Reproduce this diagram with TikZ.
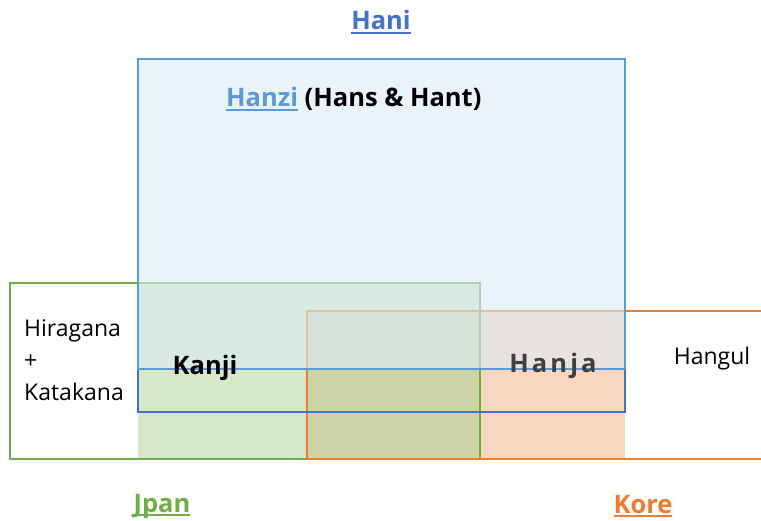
\documentclass[tikz,border=0pt]{standalone}
\usepackage{fontspec}
\setmainfont{Open Sans}
\definecolor{hblue}{HTML}{4472C4}
\definecolor{hlblue}{HTML}{5B9BD5}
\definecolor{hgreen}{HTML}{70AD47}
\definecolor{horange}{HTML}{ED7D31}
\definecolor{hanfill}{HTML}{DDEBF7}
\definecolor{grfill}{HTML}{D5E8C8}
\definecolor{orfill}{HTML}{F8D7C0}
\definecolor{olfill}{HTML}{CFD3A8}
\definecolor{hanjagray}{HTML}{404040}
\newcommand\myul[2][1.8pt]{\setbox0\hbox{#2}\rlap{\rule[-4pt]{\wd0}{#1}}\box0}
\tikzset{
  title/.style={inner sep=0pt, font=\bfseries\fontsize{25.5}{30}\selectfont},
  plain/.style={inner sep=0pt, font=\fontsize{23}{27}\selectfont},
}
\begin{document}
\begin{tikzpicture}[x=1pt,y=-1pt]
\useasboundingbox (0,0) rectangle (761,521);
% fills
\fill[grfill] (138,283) rectangle (480,459);
\fill[orfill] (307,311) rectangle (625,459);
\fill[olfill] (307,311) rectangle (480,459);
% borders
\draw[hgreen, line width=2.8pt] (10,283) rectangle (480,459);
\draw[horange, line width=2.8pt] (763,311) -- (307,311) -- (307,459) -- (763,459);
\draw[hblue, line width=2.5pt] (138,59) rectangle (625,412);
% Han overlay
\filldraw[fill=hanfill, fill opacity=0.6, draw=hlblue, line width=1.8pt] (138,59) rectangle (625,369);
% texts
\node[title, text=hblue] (hani) at (381,22) {\myul{Hani}};
\node[title, anchor=west] (hanzi) at (226,99) {\textcolor{hlblue}{\myul{Hanzi}} (Hans \& Hant)};
\node[title] (kanji) at (205,368) {Kanji};
\node[title, text=hanjagray] (hanja) at (553,366) {\addfontfeature{LetterSpace=12}Hanja};
\node[plain] (hangul) at (712,359) {Hangul};
\node[plain, anchor=west] (hira) at (24,331) {Hiragana};
\node[plain, anchor=west] (plus) at (24,362) {+};
\node[plain, anchor=west] (kata) at (24,392) {Katakana};
\node[title, text=hgreen] (jpan) at (162,506) {\myul{Jpan}};
\node[title, text=horange] (kore) at (643,506) {\myul{Kore}};
\end{tikzpicture}
\end{document}
